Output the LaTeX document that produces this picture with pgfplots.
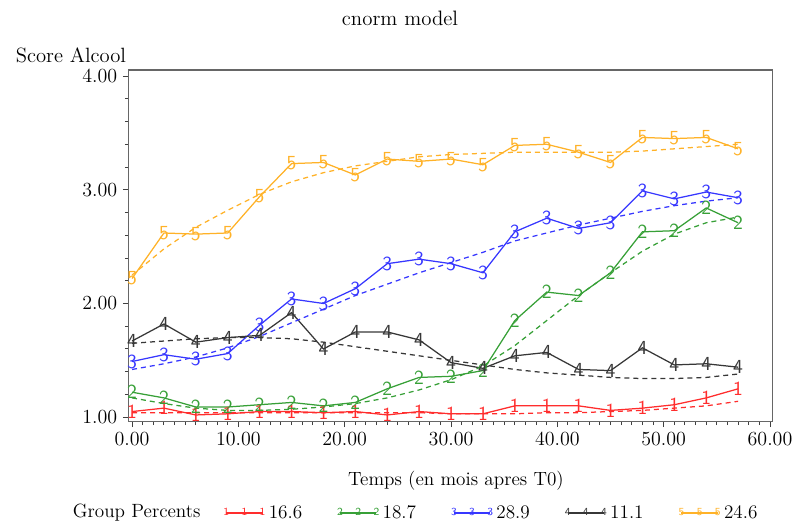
\documentclass[border=0pt]{standalone}
\usepackage{pgfplots}
\usepackage{pgfplotstable}
\pgfplotsset{compat=1.18}
\definecolor{cred}{RGB}{255,45,45}
\definecolor{cgreen}{RGB}{55,160,55}
\definecolor{cblue}{RGB}{55,55,255}
\definecolor{cblack}{RGB}{55,55,55}
\definecolor{corange}{RGB}{255,178,40}

\pgfplotstableread{
x obs fit
0 1.05 1.04
3 1.08 1.04
6 1.02 1.04
9 1.03 1.04
12 1.05 1.04
15 1.05 1.04
18 1.04 1.04
21 1.05 1.04
24 1.02 1.04
27 1.05 1.04
30 1.03 1.03
33 1.03 1.03
36 1.10 1.03
39 1.10 1.04
42 1.10 1.04
45 1.06 1.05
48 1.08 1.06
51 1.11 1.08
54 1.17 1.10
57 1.25 1.14
}\gone

\pgfplotstableread{
x obs fit
0 1.22 1.17
3 1.17 1.12
6 1.09 1.08
9 1.09 1.06
12 1.11 1.06
15 1.13 1.07
18 1.10 1.09
21 1.13 1.12
24 1.25 1.17
27 1.35 1.24
30 1.36 1.33
33 1.41 1.45
36 1.85 1.63
39 2.10 1.85
42 2.07 2.07
45 2.27 2.27
48 2.63 2.46
51 2.64 2.61
54 2.84 2.71
57 2.71 2.76
}\gtwo

\pgfplotstableread{
x obs fit
0 1.49 1.42
3 1.55 1.47
6 1.51 1.53
9 1.56 1.61
12 1.81 1.71
15 2.04 1.83
18 2.00 1.95
21 2.13 2.07
24 2.35 2.17
27 2.39 2.27
30 2.35 2.36
33 2.27 2.45
36 2.63 2.55
39 2.75 2.62
42 2.66 2.69
45 2.71 2.75
48 2.99 2.81
51 2.92 2.86
54 2.98 2.90
57 2.93 2.93
}\gthree

\pgfplotstableread{
x obs fit
0 1.67 1.65
3 1.82 1.67
6 1.66 1.69
9 1.70 1.70
12 1.72 1.70
15 1.92 1.69
18 1.60 1.66
21 1.75 1.62
24 1.75 1.58
27 1.68 1.54
30 1.48 1.50
33 1.43 1.46
36 1.54 1.42
39 1.57 1.39
42 1.42 1.37
45 1.41 1.35
48 1.61 1.34
51 1.46 1.34
54 1.47 1.35
57 1.44 1.38
}\gfour

\pgfplotstableread{
x obs fit
0 2.22 2.25
3 2.62 2.48
6 2.61 2.67
9 2.62 2.82
12 2.94 2.96
15 3.23 3.07
18 3.24 3.15
21 3.13 3.21
24 3.27 3.25
27 3.25 3.29
30 3.27 3.31
33 3.22 3.32
36 3.39 3.33
39 3.40 3.33
42 3.33 3.33
45 3.24 3.33
48 3.46 3.34
51 3.45 3.36
54 3.46 3.38
57 3.36 3.40
}\gfive

\begin{document}
\begin{tikzpicture}
\begin{axis}[
  scale only axis,
  width=386.6pt, height=211pt,
  xmin=-0.35, xmax=60.25, ymin=0.961, ymax=4.053,
  xtick={0,10,20,30,40,50,60},
  ytick={1,2,3,4},
  minor x tick num=9, minor y tick num=4,
  tick align=outside, tick pos=left,
  major tick length=3.2pt, minor tick length=2pt,
  axis line style={draw=black!60, line width=0.7pt},
  every tick/.style={black!75, line width=0.6pt},
  tick label style={font=\fontsize{12}{14}\selectfont},
  xticklabel style={/pgf/number format/.cd, fixed, fixed zerofill, precision=2},
  yticklabel style={/pgf/number format/.cd, fixed, fixed zerofill, precision=2},
  clip=false,
  every axis plot/.append style={line width=0.75pt},
  text mark as node=true,
  text mark style={font=\fontsize{12}{12}\sffamily, inner sep=0pt, anchor=center},
  legend style={at={(axis description cs:0.147,-0.2596)}, anchor=west,
    draw=none, fill=none, legend columns=-1, inner sep=0pt,
    font=\fontsize{11.5}{13}\selectfont,
    /tikz/every even column/.append style={column sep=19pt}},
  legend image code/.code={
    \draw[#1, mark repeat=1, text mark style={font=\fontsize{6.5}{6.5}\sffamily, inner sep=0pt, anchor=center}]
      plot coordinates {(0.8pt,0pt) (11.7pt,0pt) (22.6pt,0pt)};
  },
]
\addplot[cred, mark=text, text mark={1}] table[x=x, y=obs] {\gone};
\addplot[cgreen, mark=text, text mark={2}] table[x=x, y=obs] {\gtwo};
\addplot[cblue, mark=text, text mark={3}] table[x=x, y=obs] {\gthree};
\addplot[cblack, mark=text, text mark={4}] table[x=x, y=obs] {\gfour};
\addplot[corange, mark=text, text mark={5}] table[x=x, y=obs] {\gfive};
\legend{16.6, 18.7, 28.9, 11.1, 24.6}
\addplot[cred, dash pattern=on 3pt off 2.4pt, forget plot] table[x=x, y=fit] {\gone};
\addplot[cgreen, dash pattern=on 3pt off 2.4pt, forget plot] table[x=x, y=fit] {\gtwo};
\addplot[cblue, dash pattern=on 3pt off 2.4pt, forget plot] table[x=x, y=fit] {\gthree};
\addplot[cblack, dash pattern=on 3pt off 2.4pt, forget plot] table[x=x, y=fit] {\gfour};
\addplot[corange, dash pattern=on 3pt off 2.4pt, forget plot] table[x=x, y=fit] {\gfive};
\end{axis}
\node[font=\fontsize{12.5}{14}\selectfont] at (163pt,242.2pt) {cnorm model};
\node[anchor=west, font=\fontsize{12.4}{14}\selectfont] at (-71pt,220pt) {Score Alcool};
\node[font=\fontsize{11.5}{13}\selectfont] at (196.6pt,-35.6pt) {Temps (en mois apres T0)};
\node[anchor=west, font=\fontsize{11.5}{13}\selectfont] at (-36.8pt,-54.8pt) {Group Percents};
\pgfresetboundingbox
\path[use as bounding box] (-77pt,-63.2pt) rectangle (399.4pt,253pt);
\end{tikzpicture}
\end{document}
